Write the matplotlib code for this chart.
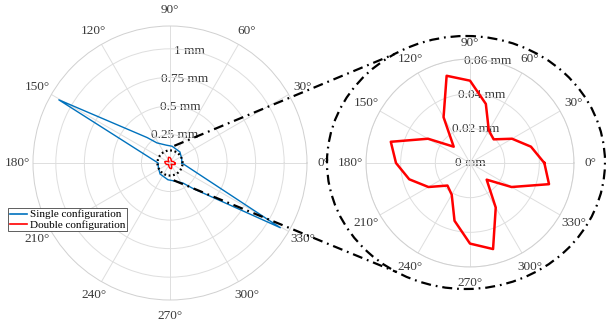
import numpy as np
import matplotlib.pyplot as plt
from matplotlib.patches import Ellipse

plt.rcParams['font.family'] = ['Liberation Serif', 'DejaVu Serif']

# deflection of the tool tip (mm) against load direction (deg)
single_theta = [0, 20, 48, 83, 102, 117, 123, 132, 150.4, 180,
                200, 228, 263, 282, 297, 303, 312, 329.6, 360]
single_r = [0.104, 0.109, 0.130, 0.148, 0.160, 0.190, 0.210, 0.300, 1.12, 0.104,
            0.109, 0.130, 0.148, 0.160, 0.190, 0.210, 0.300, 1.12, 0.104]

double_theta = list(range(0, 375, 15))
double_r = [0.0429, 0.0364, 0.0280, 0.0193, 0.0217, 0.0353, 0.0475, 0.0521,
            0.0305, 0.0133, 0.0280, 0.0473, 0.0427, 0.0363, 0.0277, 0.0184,
            0.0211, 0.0345, 0.0465, 0.0514, 0.0297, 0.0136, 0.0277, 0.0472,
            0.0429]

left_rticks = [0.25, 0.5, 0.75, 1.0]
left_rlabels = ['0.25 mm', '0.5 mm', '0.75 mm', '1 mm']
right_rticks = [0, 0.02, 0.04, 0.06]
right_rlabels = ['0 mm', '0.02 mm', '0.04 mm', '0.06 mm']
theta_ticks = list(range(0, 360, 30))
theta_labels = [f'{t}\u00b0' for t in theta_ticks]

zoom_r = 0.11  # radius of the highlighted region in the left plot

W, H = 606, 321
fig = plt.figure(figsize=(W / 100, H / 100), dpi=100)

BLUE = '#0072BD'
GRID = '#dedede'
TXT = '#3a3a3a'


def polar_box(cx, cy, R):
    return [(cx - R) / W, (H - cy - R) / H, 2 * R / W, 2 * R / H]


def style_polar(ax, rmax, rticks, rlabels):
    ax.set_ylim(0, rmax)
    ax.set_yticks(rticks)
    ax.set_yticklabels([])
    ax.set_thetagrids(theta_ticks, theta_labels)
    ax.tick_params(axis='x', pad=1, labelsize=9.5, colors=TXT)
    ax.grid(True, color=GRID, lw=0.7)
    ax.spines['polar'].set_color('#d0d0d0')
    ax.spines['polar'].set_linewidth(0.7)
    for r, s in zip(rticks, rlabels):
        ax.text(np.deg2rad(80), r, s, ha='center', va='center',
                fontsize=9.5, color=TXT, zorder=1)


ax1 = fig.add_axes(polar_box(170, 163, 137), projection='polar')
style_polar(ax1, 1.2, left_rticks, left_rlabels)
ax1.plot(np.deg2rad(single_theta), single_r, color=BLUE, lw=1.0, zorder=3)
ax1.plot(np.deg2rad(double_theta), double_r, color='red', lw=1.0, zorder=4)
circ = np.linspace(0, 2 * np.pi, 200)
ax1.plot(circ, np.full_like(circ, zoom_r), color='black', lw=1.6,
         ls=(0, (0.8, 1.2)), zorder=5)

ax2 = fig.add_axes(polar_box(470, 163, 104), projection='polar')
style_polar(ax2, 0.06, right_rticks, right_rlabels)
ax2.plot(np.deg2rad(double_theta), double_r, color='red', lw=1.8, zorder=4)

# overlay in pixel units for the zoom ellipse and connectors
ov = fig.add_axes([0, 0, 1, 1], zorder=10)
ov.set_xlim(0, W)
ov.set_ylim(H, 0)
ov.axis('off')
ov.patch.set_alpha(0)

dashdot = (0, (4.5, 2.2, 0.8, 2.2))
ecx, ecy, ea, eb = 466, 162.5, 139, 126.5
ov.add_patch(Ellipse((ecx, ecy), 2 * ea, 2 * eb, fill=False, ec='black',
                     lw=1.6, ls=dashdot))

to_px = lambda xy: (xy[0], H - xy[1])
for a_start, t_end in [(76, 121), (-78, -120)]:
    p0 = to_px(ax1.transData.transform((np.deg2rad(a_start), 0.155)))
    p1 = (ecx + ea * np.cos(np.deg2rad(t_end)),
          ecy - eb * np.sin(np.deg2rad(t_end)))
    ov.plot([p0[0], p1[0]], [p0[1], p1[1]], color='black', lw=1.6, ls=dashdot)

handles = [plt.Line2D([], [], color=BLUE, lw=1.2),
           plt.Line2D([], [], color='red', lw=1.2)]
leg = fig.legend(handles, ['Single configuration', 'Double configuration'],
                 loc='upper left', bbox_to_anchor=(8 / W, 1 - 208 / H),
                 fontsize=8, fancybox=False, edgecolor='#444444',
                 framealpha=1, borderpad=0.15, labelspacing=0.05,
                 handlelength=1.6, handletextpad=0.25, borderaxespad=0)
leg.get_frame().set_linewidth(0.6)
leg.set_zorder(20)

fig.savefig('out.png', dpi=100)
